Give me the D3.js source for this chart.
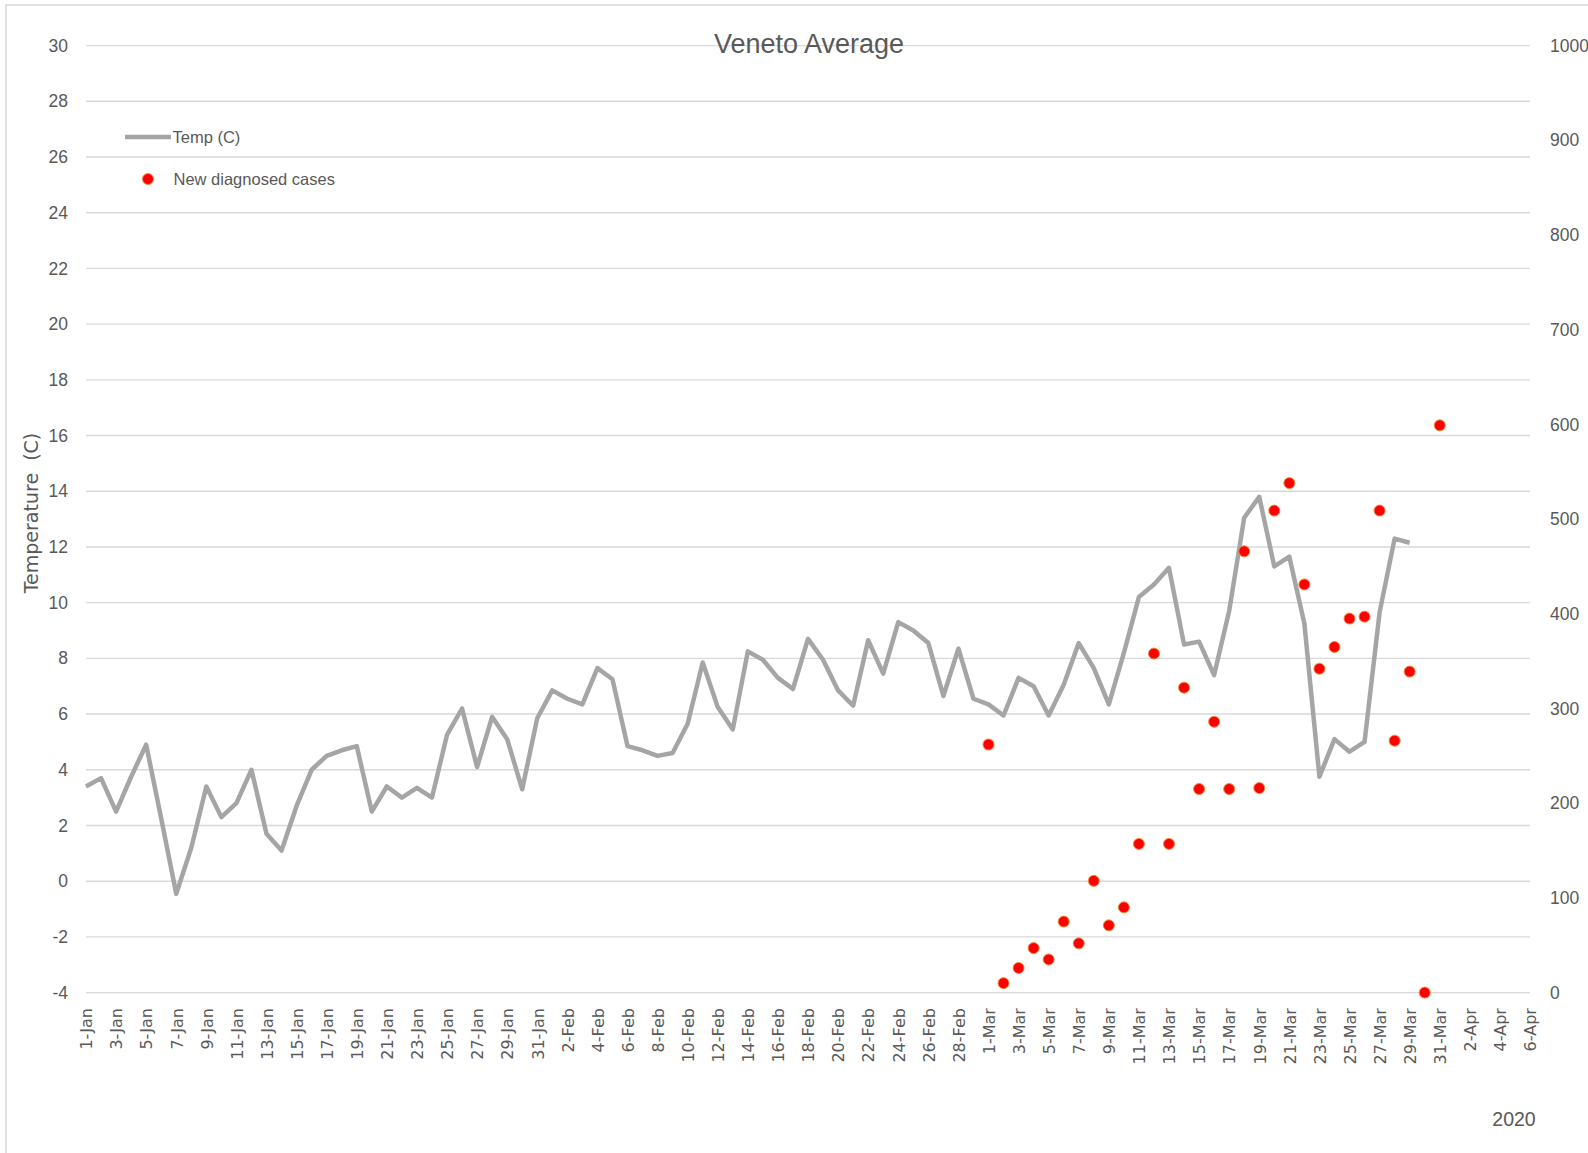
<!DOCTYPE html>
<html>
<head>
<meta charset="utf-8">
<script src="https://cdn.jsdelivr.net/npm/d3@7"></script>
<style>
  html, body { margin: 0; padding: 0; background: #ffffff; }
  svg { display: block; }
  .lbl { font-family: "Liberation Sans", Arial, sans-serif; fill: #595959; }
  .dv { font-family: "DejaVu Sans", Verdana, sans-serif; fill: #595959; }
</style>
</head>
<body>
<svg id="chart" width="1588" height="1153"></svg>
<script>
// ---------------- DATA ----------------
const chartTitle = "Veneto Average";
const yearLabel = "2020";
const leftAxisTitle = "Temperature  (C)";
const seriesNames = ["Temp (C)", "New diagnosed cases"];

// x axis: daily categories from 1-Jan to 6-Apr 2020, labelled every 2 days
const axisStart = "2020-01-01";
const axisEnd = "2020-04-06";

// Temperature (C), daily from 1-Jan to 29-Mar
const tempStart = "2020-01-01";
const tempValues = [
  // Jan 1-31
  3.4, 3.7, 2.5, 3.75, 4.9, 2.25, -0.45, 1.2, 3.4, 2.3,
  2.8, 4.0, 1.7, 1.1, 2.7, 4.0, 4.5, 4.7, 4.85, 2.5,
  3.4, 3.0, 3.35, 3.0, 5.25, 6.2, 4.1, 5.9, 5.1, 3.3,
  5.85,
  // Feb 1-29
  6.85, 6.55, 6.35, 7.65, 7.25, 4.85, 4.7, 4.5, 4.6, 5.65,
  7.85, 6.25, 5.45, 8.25, 7.95, 7.3, 6.9, 8.7, 7.95, 6.85,
  6.3, 8.65, 7.45, 9.3, 9.0, 8.55, 6.65, 8.35, 6.55,
  // Mar 1-29
  6.35, 5.95, 7.3, 7.0, 5.95, 7.05, 8.55, 7.65, 6.35, 8.2,
  10.2, 10.65, 11.25, 8.5, 8.6, 7.4, 9.7, 13.05, 13.8, 11.3,
  11.65, 9.25, 3.75, 5.1, 4.65, 5.0, 9.65, 12.3, 12.15
];

// New diagnosed cases, daily from 1-Mar to 31-Mar (right axis)
const casesStart = "2020-03-01";
const casesValues = [
  262, 10, 26, 47, 35, 75, 52, 118, 71, 90,
  157, 358, 157, 322, 215, 286, 215, 466, 216, 509,
  538, 431, 342, 365, 395, 397, 509, 266, 339, 0,
  599
];

const leftTicks = [-4, -2, 0, 2, 4, 6, 8, 10, 12, 14, 16, 18, 20, 22, 24, 26, 28, 30];
const rightTicks = [0, 100, 200, 300, 400, 500, 600, 700, 800, 900, 1000];

// ---------------- CHART ----------------
const parse = d3.utcParse("%Y-%m-%d");
const fmt = d3.utcFormat("%-d-%b");
const t0 = parse(axisStart), t1 = parse(axisEnd);

const tempData = tempValues.map((v, i) => ({ date: d3.utcDay.offset(parse(tempStart), i), v }));
const casesData = casesValues.map((v, i) => ({ date: d3.utcDay.offset(parse(casesStart), i), v }));

const svg = d3.select("#chart");
const plotL = 86, plotR = 1530, plotT = 45.6, plotB = 992.6;

const x = d3.scaleUtc().domain([t0, t1]).range([plotL, plotR]);
const y = d3.scaleLinear().domain([-4, 30]).range([plotB, plotT]);
const yR = d3.scaleLinear().domain([0, 1000]).range([plotB, plotT]);

// outer border
svg.append("rect")
  .attr("x", 6).attr("y", 5).attr("width", 1700).attr("height", 1300)
  .attr("fill", "none").attr("stroke", "#d9d9d9").attr("stroke-width", 1.5);

// gridlines
svg.append("g").selectAll("line").data(leftTicks).join("line")
  .attr("x1", plotL).attr("x2", plotR)
  .attr("y1", d => y(d)).attr("y2", d => y(d))
  .attr("stroke", "#d9d9d9").attr("stroke-width", 1.4);

// left axis
const gL = svg.append("g").attr("transform", `translate(${plotL},0)`)
  .call(d3.axisLeft(y).tickValues(leftTicks).tickFormat(d => String(d)).tickSize(0).tickPadding(18));
gL.select(".domain").remove();
gL.selectAll("text").attr("class", "lbl").attr("font-size", 17.5).attr("fill", "#595959");

// right axis
const gR = svg.append("g").attr("transform", `translate(${plotR},0)`)
  .call(d3.axisRight(yR).tickValues(rightTicks).tickFormat(d => String(d)).tickSize(0).tickPadding(20));
gR.select(".domain").remove();
gR.selectAll("text").attr("class", "lbl").attr("font-size", 17.5).attr("fill", "#595959");

// bottom axis
const xTicks = d3.utcDay.range(t0, d3.utcDay.offset(t1, 1), 2);
const gB = svg.append("g").attr("transform", `translate(0,${plotB})`)
  .call(d3.axisBottom(x).tickValues(xTicks).tickFormat(fmt).tickSize(0));
gB.select(".domain").remove();
gB.selectAll("text")
  .attr("class", "dv").attr("font-size", 16).attr("fill", "#595959")
  .attr("transform", "rotate(-90)")
  .attr("text-anchor", "end")
  .attr("x", -15.5).attr("y", 0).attr("dy", "0.36em");

// temperature line
svg.append("path").datum(tempData)
  .attr("fill", "none").attr("stroke", "#a5a5a5").attr("stroke-width", 4.5)
  .attr("stroke-linejoin", "round")
  .attr("d", d3.line().x(d => x(d.date)).y(d => y(d.v)));

// cases dots
svg.append("g").selectAll("circle").data(casesData).join("circle")
  .attr("cx", d => x(d.date)).attr("cy", d => yR(d.v)).attr("r", 5.5)
  .attr("fill", "#ff0000").attr("stroke", "#f08a3c").attr("stroke-width", 1);

// title
svg.append("text").attr("class", "lbl")
  .attr("x", 809).attr("y", 53).attr("text-anchor", "middle")
  .attr("font-size", 27).text(chartTitle);

// y title
svg.append("text").attr("class", "dv")
  .attr("transform", "translate(31,513) rotate(-90)")
  .attr("text-anchor", "middle").attr("dominant-baseline", "central")
  .style("white-space", "pre")
  .attr("font-size", 19).text(leftAxisTitle);

// legend
const lg = svg.append("g");
lg.append("line").attr("x1", 125).attr("x2", 171).attr("y1", 137).attr("y2", 137)
  .attr("stroke", "#a5a5a5").attr("stroke-width", 4.5);
lg.append("text").attr("class", "lbl").attr("x", 172.5).attr("y", 137)
  .attr("dominant-baseline", "central").attr("font-size", 16.5).text(seriesNames[0]);
lg.append("circle").attr("cx", 148).attr("cy", 179).attr("r", 5.5)
  .attr("fill", "#ff0000").attr("stroke", "#f08a3c").attr("stroke-width", 1);
lg.append("text").attr("class", "lbl").attr("x", 173.5).attr("y", 179)
  .attr("dominant-baseline", "central").attr("font-size", 16.5).text(seriesNames[1]);

// year label
svg.append("text").attr("class", "lbl")
  .attr("x", 1514).attr("y", 1126).attr("text-anchor", "middle")
  .attr("font-size", 19.5).text(yearLabel);
</script>
</body>
</html>
